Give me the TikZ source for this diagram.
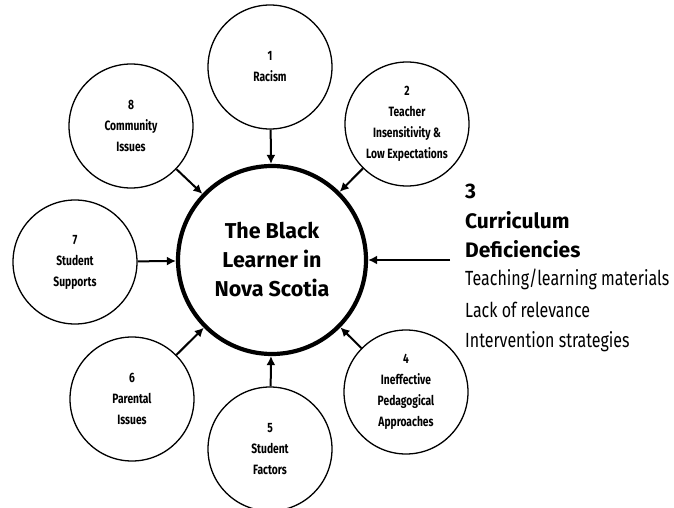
\documentclass[tikz,border=0pt]{standalone}
\usepackage{fontspec}
\setmainfont{Fira Sans}
\newfontfamily\narrowfont[FakeStretch=0.76]{Fira Sans}
\newfontfamily\listfont[FakeStretch=0.78]{Fira Sans}
\usetikzlibrary{arrows.meta}

\begin{document}
\begin{tikzpicture}[x=1pt,y=-1pt,
  satellite/.style={circle, draw, line width=1.3pt, minimum size=124pt,
    inner sep=0pt, align=center,
    font=\narrowfont\bfseries\fontsize{13.5}{21}\selectfont},
  hub/.style={circle, draw, line width=4.2pt, minimum size=188pt,
    inner sep=0pt, align=center,
    font=\bfseries\fontsize{21.5}{29}\selectfont},
  feed/.style={line width=2pt, -{Latex[length=9pt,width=9pt]}},
  headline/.style={anchor=base west, inner sep=0pt,
    font=\bfseries\fontsize{21}{29}\selectfont},
  listline/.style={anchor=base west, inner sep=0pt,
    font=\listfont\fontsize{20.5}{30}\selectfont}
]
\useasboundingbox (0,0) rectangle (674,508);

% central hub
\node[hub] (hub) at (272,260) {The Black\\Learner in\\Nova Scotia};

% surrounding factors
\node[satellite] (f1) at (270,67)  {1\\Racism};
\node[satellite] (f2) at (407,124) {2\\Teacher\\Insensitivity \&\\Low Expectations};
\node[satellite] (f4) at (406,392) {4\\Ineffective\\Pedagogical\\Approaches};
\node[satellite] (f5) at (270,449) {5\\Student\\Factors};
\node[satellite] (f6) at (132,399) {6\\Parental\\Issues};
\node[satellite] (f7) at (75,262)  {7\\Student\\Supports};
\node[satellite] (f8) at (131,126) {8\\Community\\Issues};

% factor 3 as a text block
\node[headline] (h3) at (465,198) {3};
\node[headline] (h3a) at (465,228) {Curriculum};
\node[headline] (h3b) at (465,257) {Deficiencies};
\node[listline] (l1) at (465,285) {Teaching/learning materials};
\node[listline] (l2) at (465,317) {Lack of relevance};
\node[listline] (l3) at (465,347) {Intervention strategies};
\coordinate (c3) at (450,260);

% connectors into the hub
\foreach \f in {f1,f2,f4,f5,f6,f7,f8}
  \draw[feed] (\f) -- (hub);
\draw[feed] (c3) -- (hub);
\end{tikzpicture}
\end{document}
